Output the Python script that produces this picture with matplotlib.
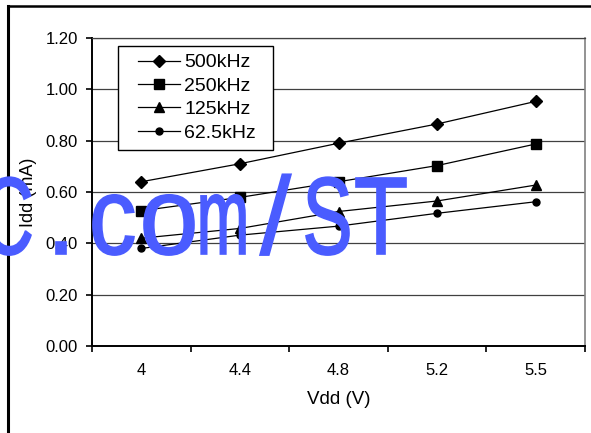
import matplotlib
matplotlib.use("Agg")
import matplotlib.pyplot as plt
from matplotlib.lines import Line2D
from matplotlib.legend_handler import HandlerLine2D
from matplotlib.textpath import TextPath
from matplotlib.patches import PathPatch
from matplotlib.font_manager import FontProperties
from matplotlib.transforms import Affine2D

plt.rcParams['font.family'] = ['Liberation Sans', 'DejaVu Sans']

# data
vdd = ['4', '4.4', '4.8', '5.2', '5.5']
idd_500k = [0.64, 0.71, 0.79, 0.865, 0.953]
idd_250k = [0.527, 0.579, 0.64, 0.703, 0.787]
idd_125k = [0.42, 0.458, 0.524, 0.565, 0.627]
idd_62k5 = [0.38, 0.432, 0.467, 0.517, 0.562]
series = [
    ("500kHz", idd_500k, "D", 6.5),
    ("250kHz", idd_250k, "s", 7.5),
    ("125kHz", idd_125k, "^", 7.5),
    ("62.5kHz", idd_62k5, "o", 5),
]

W, H = 591, 433
fig = plt.figure(figsize=(W / 100, H / 100), dpi=100)
ax = fig.add_axes([92 / W, (H - 346) / H, (585 - 92) / W, (346 - 38) / H])

x = list(range(len(vdd)))
for name, vals, mk, ms in series:
    ax.plot(x, vals, color="black", lw=0.9, marker=mk, ms=ms, label=name)

ax.set_xlim(-0.5, len(vdd) - 0.5)
ax.set_ylim(0, 1.2)
ax.set_yticks([i * 0.2 for i in range(7)])
ax.set_yticklabels([f"{i * 0.2:.2f}" for i in range(7)])
ax.set_xticks(x)
ax.set_xticklabels(vdd)
ax.set_xticks([i - 0.5 for i in range(len(vdd) + 1)], minor=True)
ax.tick_params(axis="x", which="major", length=0, pad=12, labelsize=12)
ax.tick_params(axis="x", which="minor", length=4, width=1.2, direction="out")
ax.tick_params(axis="y", length=4, width=1.2, pad=6, labelsize=12)

ax.yaxis.grid(True, color="#404040", lw=0.9)
ax.set_axisbelow(True)
for s in ["left", "bottom"]:
    ax.spines[s].set_linewidth(1.4)
    ax.spines[s].set_color("black")
ax.spines["top"].set_color("#404040")
ax.spines["top"].set_linewidth(0.9)
ax.spines["right"].set_color("#808080")
ax.spines["right"].set_linewidth(1.2)

ax.set_xlabel("Vdd (V)", fontsize=13.5)
ax.xaxis.set_label_coords(0.5, -0.145)
ax.set_ylabel("Idd (mA)", fontsize=13)
ax.yaxis.set_label_coords(-0.112, 0.5)

leg = ax.legend(loc="upper left",
                bbox_to_anchor=((118 - 92) / 493, 1 - 8 / 308, 155 / 493, 0),
                mode="expand", borderaxespad=0, fancybox=False,
                edgecolor="black", framealpha=1, fontsize=14,
                handlelength=2.8, handletextpad=0.2, labelspacing=0.3,
                borderpad=0.4,
                handler_map={Line2D: HandlerLine2D(xpad=0.62)})
leg.get_frame().set_linewidth(1.0)

# page frame lines
fig.add_artist(Line2D([8 / W, 8 / W], [0, 1 - 6 / H], color="black", lw=2.2))
fig.add_artist(Line2D([8 / W, 1], [1 - 6 / H, 1 - 6 / H], color="black", lw=1.8))

# watermark, glyph by glyph
fp = FontProperties(family="Liberation Sans")
wm_chars = ["C", ".", "c", "o", "m", "/", "S", "T"]
wm_left = [-15, 56, 93, 144, 201, 260, 306, 356]
wm_right = [31, 66, 134, 194, 245, 291, 349, 406]
base = H - 254
em = 110
for ch, l, r in zip(wm_chars, wm_left, wm_right):
    tp = TextPath((0, 0), ch, size=1, prop=fp)
    ext = tp.get_extents()
    sx = (r - l) / ext.width
    tr = (Affine2D().translate(-ext.x0, 0).scale(sx, em).translate(l, base)
          .scale(1 / W, 1 / H) + fig.transFigure)
    fig.add_artist(PathPatch(tp, transform=tr, facecolor="#4a5cff",
                             edgecolor="#4a5cff", lw=1.2, zorder=10))

fig.savefig("out.png", dpi=100)
